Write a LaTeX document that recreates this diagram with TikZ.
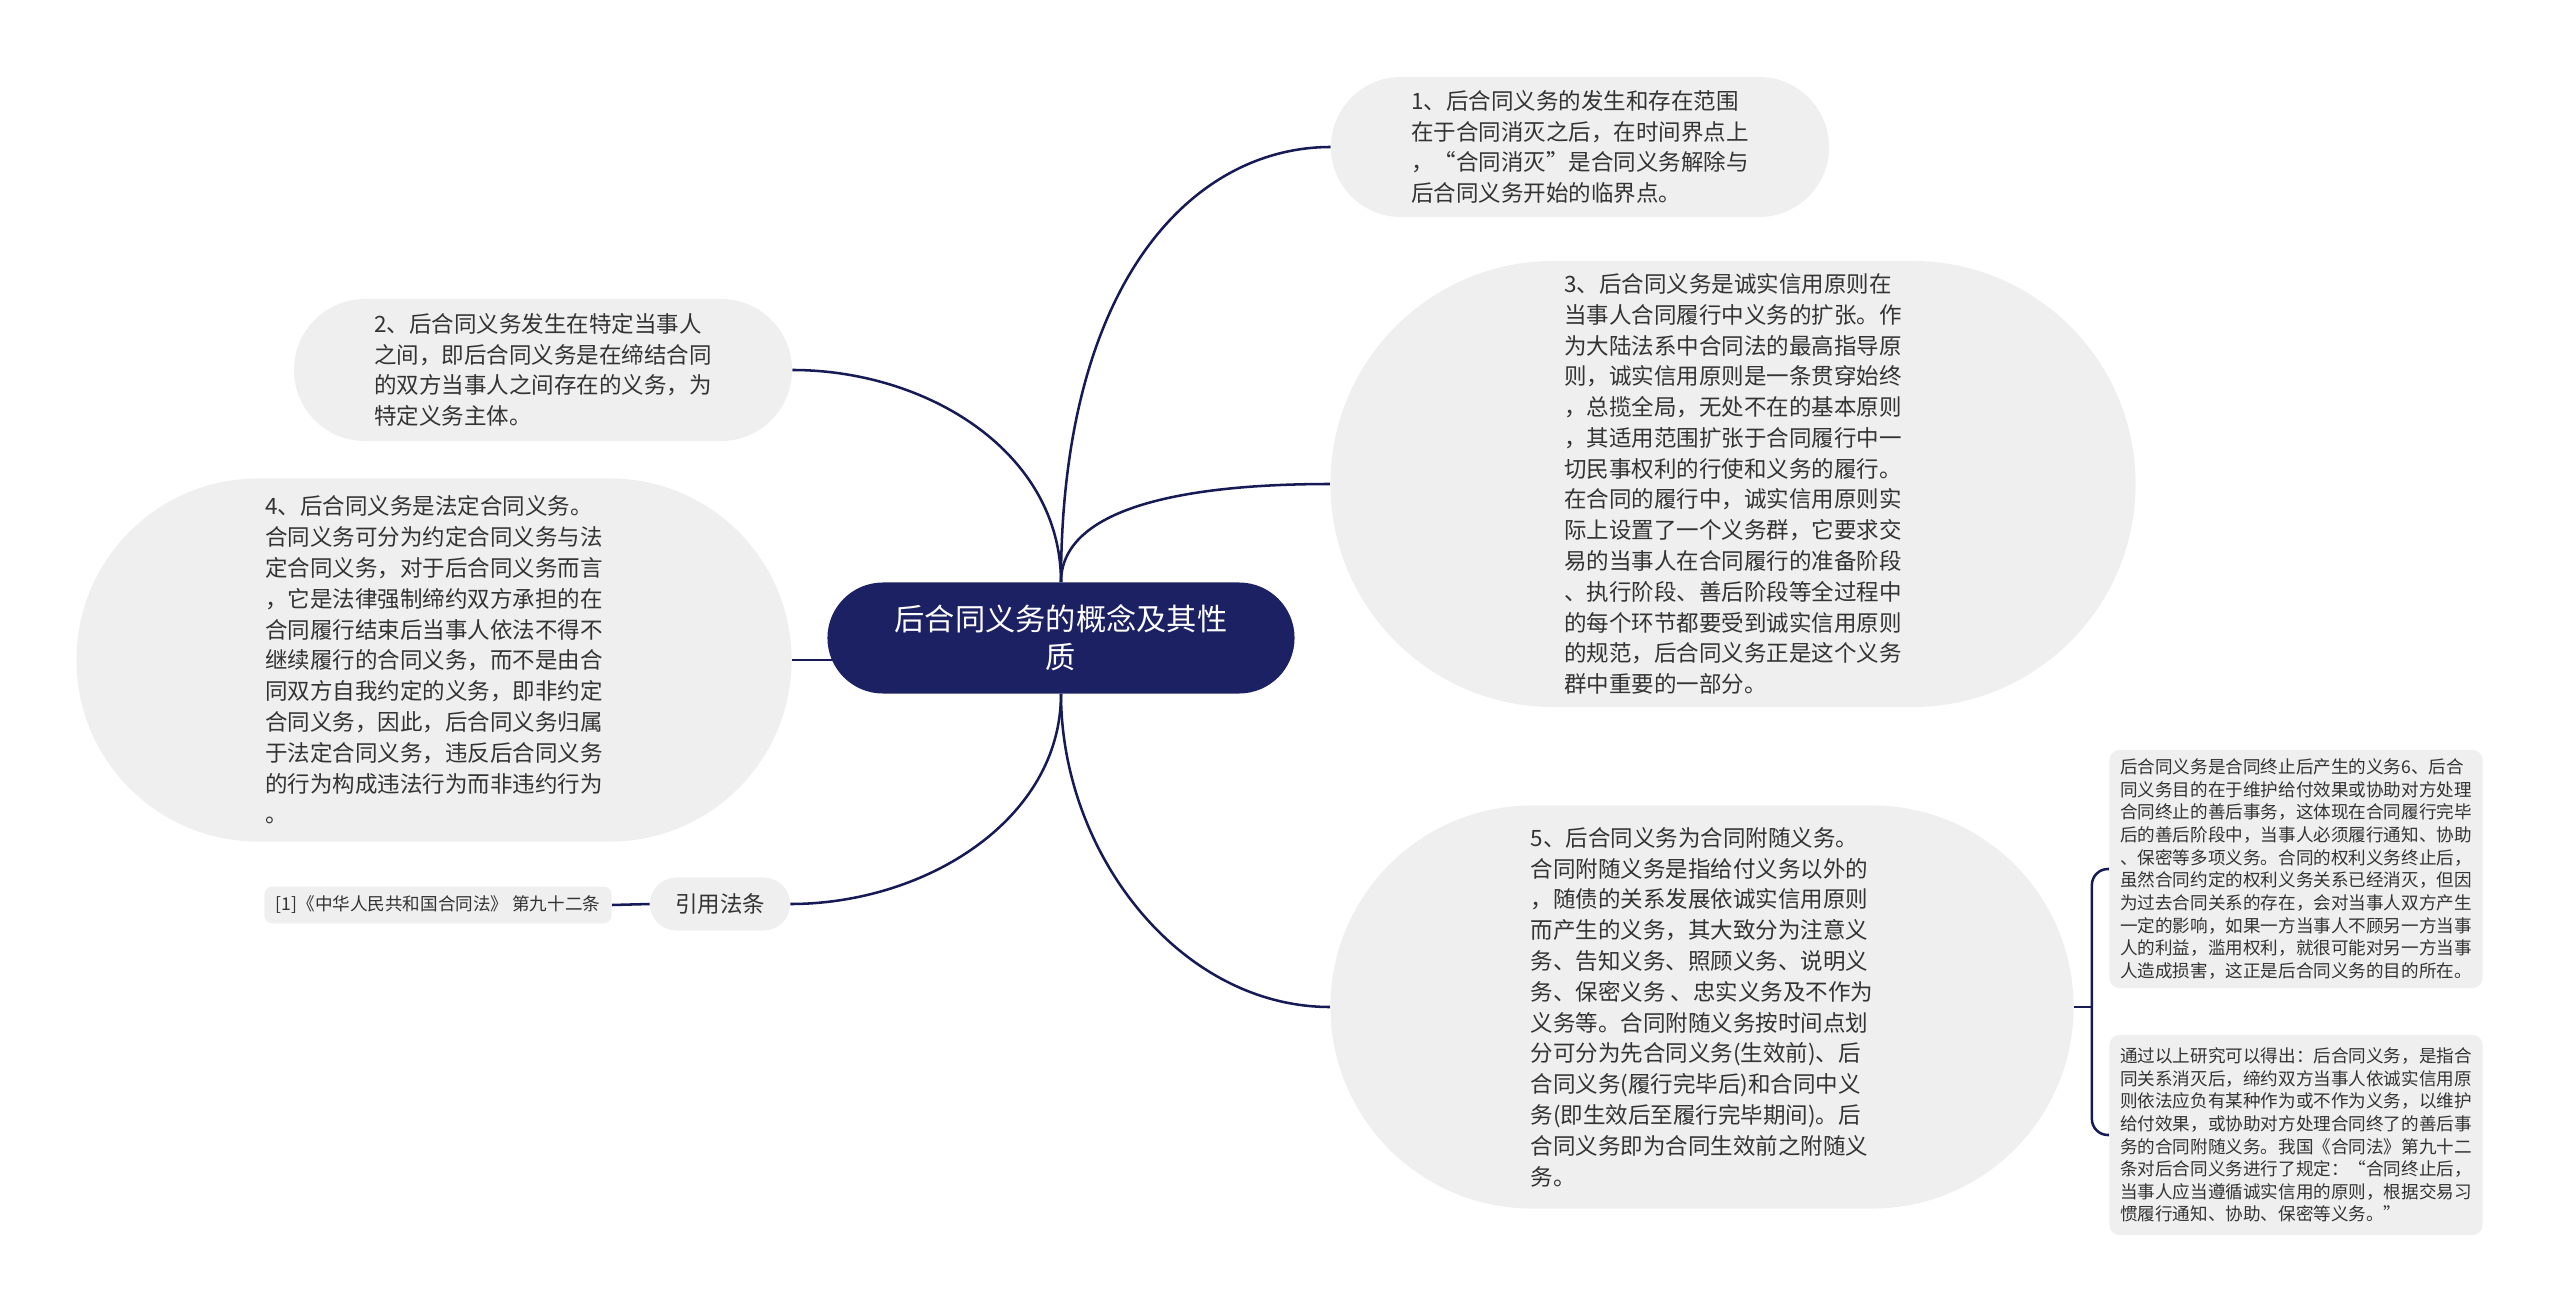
\documentclass[tikz,border=0pt]{standalone}
\usepackage{fontspec}
\newfontfamily\cjk{Noto Sans CJK SC}
\usetikzlibrary{backgrounds}

\begin{document}
\begin{tikzpicture}[x=0.025cm,y=-0.025cm,
    idea/.style={fill=ideagray,text=inkgray,align=left,inner sep=0pt,
        font=\cjk\fontsize{16}{21.9}\selectfont},
    hoja/.style={fill=ideagray,text=inkgray,align=left,inner sep=0pt,
        rounded corners=0.25cm,font=\cjk\fontsize{12.5}{16.1}\selectfont},
    enlace/.style={draw=linknavy,line width=1.8pt}]
    % Definición de colores
    \definecolor{ideagray}{HTML}{EFEFEF}
    \definecolor{inkgray}{HTML}{333333}
    \definecolor{rootnavy}{HTML}{1B2163}
    \definecolor{linknavy}{HTML}{161B55}

    \useasboundingbox (0,0) rectangle (2560,1313);

    % Tema central
    \node[fill=rootnavy,text=white,align=center,inner sep=0pt,
        minimum width=11.675cm,minimum height=2.775cm,rounded corners=1.3875cm,
        font=\cjk\fontsize{21.5}{27}\selectfont] (centro) at (1061,638)
        {后合同义务的概念及其性\\质};

    % Ramas derechas
    \node[idea,minimum width=12.45cm,minimum height=3.5cm,rounded corners=1.75cm]
        (p1) at (1580,147)
        {1、后合同义务的发生和存在范围\\在于合同消灭之后，在时间界点上\\，“合同消灭”是合同义务解除与\\后合同义务开始的临界点。\hspace{0.3cm}};
    \node[idea,minimum width=20.125cm,minimum height=11.15cm,rounded corners=5.575cm]
        (p3) at (1733,484)
        {3、后合同义务是诚实信用原则在\\当事人合同履行中义务的扩张。作\\为大陆法系中合同法的最高指导原\\则，诚实信用原则是一条贯穿始终\\，总揽全局，无处不在的基本原则\\，其适用范围扩张于合同履行中一\\切民事权利的行使和义务的履行。\\在合同的履行中，诚实信用原则实\\际上设置了一个义务群，它要求交\\易的当事人在合同履行的准备阶段\\、执行阶段、善后阶段等全过程中\\的每个环节都要受到诚实信用原则\\的规范，后合同义务正是这个义务\\群中重要的一部分。\hspace{0.3cm}};
    \node[idea,minimum width=18.575cm,minimum height=10.075cm,rounded corners=5.0375cm]
        (p5) at (1702,1007)
        {5、后合同义务为合同附随义务。\\合同附随义务是指给付义务以外的\\，随债的关系发展依诚实信用原则\\而产生的义务，其大致分为注意义\\务、告知义务、照顾义务、说明义\\务、保密义务 、忠实义务及不作为\\义务等。合同附随义务按时间点划\\分可分为先合同义务(生效前)、后\\合同义务(履行完毕后)和合同中义\\务(即生效后至履行完毕期间)。后\\合同义务即为合同生效前之附随义\\务。\hspace{0.3cm}};

    % Ramas izquierdas
    \node[idea,minimum width=12.45cm,minimum height=3.55cm,rounded corners=1.775cm]
        (p2) at (543,370)
        {2、后合同义务发生在特定当事人\\之间，即后合同义务是在缔结合同\\的双方当事人之间存在的义务，为\\特定义务主体。\hspace{0.3cm}};
    \node[idea,minimum width=17.875cm,minimum height=9.075cm,rounded corners=4.5375cm]
        (p4) at (434,660)
        {4、后合同义务是法定合同义务。\\合同义务可分为约定合同义务与法\\定合同义务，对于后合同义务而言\\，它是法律强制缔约双方承担的在\\合同履行结束后当事人依法不得不\\继续履行的合同义务，而不是由合\\同双方自我约定的义务，即非约定\\合同义务，因此，后合同义务归属\\于法定合同义务，违反后合同义务\\的行为构成违法行为而非违约行为\\。\hspace{0.3cm}};
    \node[idea,align=center,minimum width=3.5cm,minimum height=1.325cm,rounded corners=0.66cm]
        (cita) at (720,904) {引用法条};
    \node[hoja,minimum width=8.675cm,minimum height=0.925cm,rounded corners=0.2cm]
        (ley) at (438,905) {[1]《中华人民共和国合同法》 第九十二条};

    % Hojas del punto 5
    \node[hoja,minimum width=9.325cm,minimum height=5.95cm] (extra1) at (2296,869)
        {后合同义务是合同终止后产生的义务6、后合\\同义务目的在于维护给付效果或协助对方处理\\合同终止的善后事务，这体现在合同履行完毕\\后的善后阶段中，当事人必须履行通知、协助\\、保密等多项义务。合同的权利义务终止后，\\虽然合同约定的权利义务关系已经消灭，但因\\为过去合同关系的存在，会对当事人双方产生\\一定的影响，如果一方当事人不顾另一方当事\\人的利益，滥用权利，就很可能对另一方当事\\人造成损害，这正是后合同义务的目的所在。};
    \node[hoja,minimum width=9.325cm,minimum height=5cm] (extra2) at (2296,1135)
        {通过以上研究可以得出：后合同义务，是指合\\同关系消灭后，缔约双方当事人依诚实信用原\\则依法应负有某种作为或不作为义务，以维护\\给付效果，或协助对方处理合同终了的善后事\\务的合同附随义务。我国《合同法》第九十二\\条对后合同义务进行了规定：“合同终止后，\\当事人应当遵循诚实信用的原则，根据交易习\\惯履行通知、协助、保密等义务。”};

    % Conexiones
    \begin{scope}[on background layer]
        \draw[enlace] (centro.north) .. controls +(0,-305) and +(-135,0) .. (p1.west);
        \draw[enlace] (centro.north) .. controls +(0,-130) and +(135,0) .. (p2.east);
        \draw[enlace] (centro.north) .. controls +(0,-70) and +(-160,0) .. (p3.west);
        \draw[enlace] (p4.east) -- (p4.east -| centro.center);
        \draw[enlace] (centro.south) .. controls +(0,126) and +(135,0) .. (cita.east);
        \draw[enlace] (centro.south) .. controls +(0,160) and +(-150,0) .. (p5.west);
        \draw[enlace] (ley.east) -- (cita.west);
        \draw[enlace] (p5.east) -- ++(18,0) coordinate (bifurca);
        \draw[enlace,rounded corners=0.4cm] (bifurca) |- (extra1.west);
        \draw[enlace,rounded corners=0.4cm] (bifurca) |- (extra2.west);
    \end{scope}
\end{tikzpicture}
\end{document}
